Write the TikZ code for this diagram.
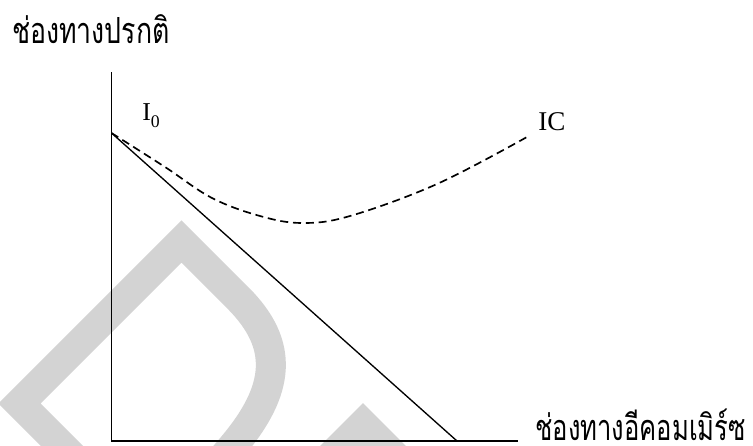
\documentclass[tikz,border=0pt]{standalone}
\usepackage{fontspec}
\setmainfont{Liberation Serif}
\newfontfamily\thaifont[Script=Thai]{Loma}
\definecolor{wmgray}{RGB}{211,211,211}
\begin{document}
\begin{tikzpicture}[x=0.75pt,y=-0.75pt,
  axis/.style={line width=1.1pt,black},
  budget/.style={line width=1pt,black},
  icline/.style={line width=1.25pt,black,dash pattern=on 6pt off 3.6pt},
  wm/.style={line width=22.5pt,wmgray,miter limit=10},
  lbl/.style={inner sep=0pt,anchor=base west}]
\useasboundingbox (0,0) rectangle (753,446);
% watermark
\begin{scope}
\clip (0,0) rectangle (753,446);
\draw[wm] (86,470) -- (19.5,403.5) -- (181.5,241.5) -- (238,298)
  .. controls (285,345) and (280,390) .. (233,446) -- (216,466);
\fill[wmgray] (363,403) -- (412,452) -- (314,452) -- cycle;
\end{scope}
% coordinates
\coordinate (O) at (111.5,441);
\coordinate (ytop) at (111.5,72);
\coordinate (xend) at (518,441);
\coordinate (A) at (111.5,133);
\coordinate (B) at (457,441);
\coordinate (icend) at (527,137);
% axes
\draw[axis] (ytop) -- (O) -- (xend);
% budget line
\draw[budget] (A) -- (B);
% indifference curve
\draw[icline] plot[smooth,tension=0.6] coordinates {(A) (165,167) (212,198) (260,216) (302,223) (350,216) (437,184) (icend)};
% labels
\node[lbl] (ylab) at (12,43) {\scalebox{1.0}[1.35]{\thaifont\fontsize{20}{24}\selectfont ช่องทางปรกติ}};
\node[lbl] (xlab) at (535,440) {\scalebox{0.96}[1.35]{\thaifont\fontsize{20}{24}\selectfont ช่องทางอีคอมเมิร์ซ}};
\node[lbl] (I0) at (142,120) {\fontsize{19.3}{22}\selectfont I\raisebox{-5.25pt}{\fontsize{13.3}{15}\selectfont 0}};
\node[lbl] (IC) at (538,130) {\fontsize{20.3}{24}\selectfont IC};
\end{tikzpicture}
\end{document}
